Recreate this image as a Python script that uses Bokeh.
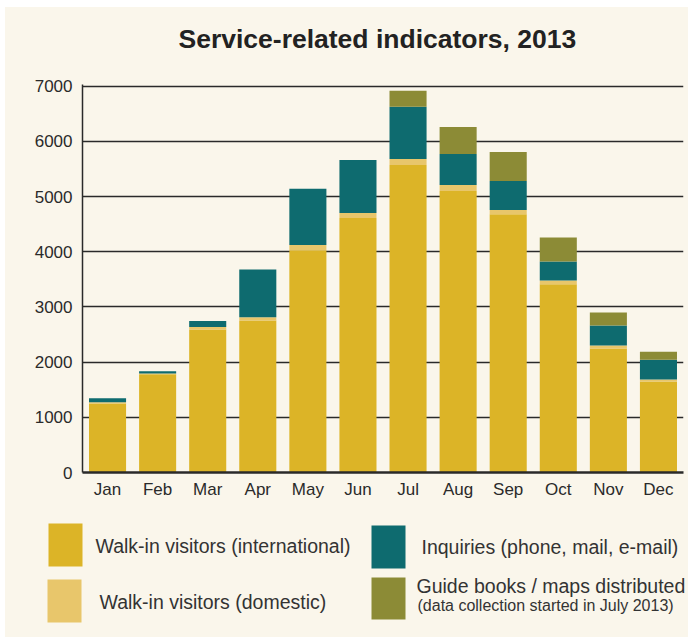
from bokeh.plotting import figure
from bokeh.models import Range1d, FixedTicker
from bokeh.layouts import column, row
from bokeh.embed import file_html
from bokeh.resources import INLINE
from bokeh.core.properties import value

months = ["Jan", "Feb", "Mar", "Apr", "May", "Jun", "Jul", "Aug", "Sep", "Oct", "Nov", "Dec"]
walkin_international = [1250, 1780, 2590, 2755, 4025, 4610, 5570, 5100, 4680, 3410, 2245, 1650]
walkin_domestic = [25, 15, 45, 60, 95, 90, 110, 110, 75, 70, 55, 35]
inquiries = [70, 40, 110, 865, 1020, 960, 945, 560, 525, 345, 365, 360]
guide_books = [0, 0, 0, 0, 0, 0, 290, 490, 525, 435, 235, 145]
y_ticks = [0, 1000, 2000, 3000, 4000, 5000, 6000, 7000]

title_text = "Service-related indicators, 2013"
series_keys = ["intl", "dom", "inq", "guide"]
series_labels = ["Walk-in visitors (international)", "Walk-in visitors (domestic)",
                 "Inquiries (phone, mail, e-mail)", "Guide books / maps distributed"]
guide_note = "(data collection started in July 2013)"
colors = ["#DCB427", "#E8C66B", "#0E6B6F", "#8C8B36"]

BG = "#FAF6EB"
INK = "#2a2a2a"
FONT = "Liberation Sans"

data = dict(month=months, intl=walkin_international, dom=walkin_domestic,
            inq=inquiries, guide=guide_books)

OX, OY = 5, 7          # white page strip left / top of the cream panel
RIGHT = 688            # right edge of the cream panel
BOTTOM = 637
W = RIGHT - OX
TOP_SPLIT = 60         # page y where the chart panel starts
SPLIT = 505            # page y where the legend panel starts
FL, FR = 82, 683       # plot frame left / right in page pixels


def panel(height):
    f = figure(x_range=Range1d(OX, RIGHT), y_range=Range1d(0, height), width=W, height=height,
               output_backend="svg", toolbar_location=None,
               x_axis_location=None, y_axis_location=None,
               min_border=0, min_border_left=0, min_border_right=0,
               min_border_top=0, min_border_bottom=0)
    f.background_fill_color = BG
    f.border_fill_color = BG
    f.outline_line_color = None
    f.grid.visible = False
    return f


# Title panel: x in page pixels, y in pixels above the panel bottom
HT = TOP_SPLIT - OY
t = panel(HT)
t.text(x=[178], y=[TOP_SPLIT - 38.3], text=[title_text], text_font=value(FONT),
       text_font_style="bold", text_font_size="26.5px", text_color="#222222",
       text_baseline="middle")

# Chart
p = figure(x_range=months, y_range=Range1d(0, 7030), width=W, height=SPLIT - TOP_SPLIT,
           output_backend="svg", toolbar_location=None,
           min_border_left=FL - OX, min_border_right=RIGHT - FR,
           min_border_top=84 - TOP_SPLIT, min_border_bottom=33)
p.background_fill_color = BG
p.border_fill_color = BG
p.outline_line_color = None

p.vbar_stack(series_keys, x="month", width=0.74, color=colors, line_color=None, source=data)

p.xgrid.grid_line_color = None
p.ygrid.grid_line_color = INK
p.ygrid.grid_line_width = 1.5
p.ygrid.ticker = FixedTicker(ticks=y_ticks)

p.yaxis.ticker = FixedTicker(ticks=y_ticks)
p.yaxis.major_tick_out = 0
p.yaxis.major_tick_in = 0
p.yaxis.minor_tick_out = 0
p.yaxis.minor_tick_in = 0
p.yaxis.axis_line_color = INK
p.yaxis.axis_line_width = 1.5
p.yaxis.major_label_standoff = 10
p.yaxis.major_label_text_font = FONT
p.yaxis.major_label_text_font_size = "17px"
p.yaxis.major_label_text_color = INK

p.xaxis.major_tick_out = 0
p.xaxis.major_tick_in = 0
p.xaxis.axis_line_color = INK
p.xaxis.axis_line_width = 2.5
p.xaxis.major_label_standoff = 7
p.xaxis.major_label_text_font = FONT
p.xaxis.major_label_text_font_size = "17px"
p.xaxis.major_label_text_color = INK

# Legend panel: x in page pixels, y in pixels above the page bottom
H2 = BOTTOM - SPLIT
q = panel(H2)

sw_left = [48, 47, 371, 371]
sw_right = [82, 81, 405, 405]
sw_top = [114, 58, 112, 60]
sw_bottom = [71, 15, 69, 18]
q.quad(left=sw_left, right=sw_right, top=sw_top, bottom=sw_bottom,
       fill_color=colors, line_color=None)

lab_x = [95, 99, 421, 416]
lab_y = [91.5, 35.5, 90.5, 51.5]
q.text(x=lab_x, y=lab_y, text=series_labels, text_font=value(FONT),
       text_font_size="19.5px", text_color="#333333", text_baseline="middle")
q.text(x=[417], y=[32.5], text=[guide_note], text_font=value(FONT),
       text_font_size="16px", text_color="#333333", text_baseline="middle")

layout = column(row(t, spacing=0, styles={"background-color": BG}),
                p,
                row(q, spacing=0, styles={"background-color": BG}),
                spacing=0, styles={"background-color": BG}, margin=(OY, 0, 0, OX))
open("out.html", "w").write(file_html(layout, INLINE))
